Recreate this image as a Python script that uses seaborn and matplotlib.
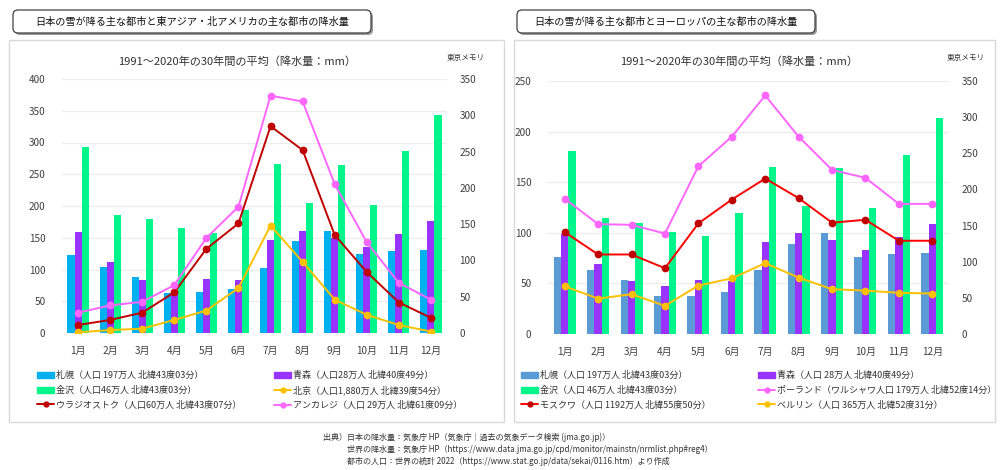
import numpy as np
import pandas as pd
import matplotlib
matplotlib.use('Agg')
import matplotlib.pyplot as plt
from matplotlib.patches import Patch, Rectangle, FancyBboxPatch
from matplotlib.lines import Line2D
from matplotlib.transforms import Affine2D
import seaborn as sns

sns.set_style('white')
plt.rcParams['font.family'] = ['Noto Sans CJK JP', 'DejaVu Sans']

months = [f'{m}月' for m in range(1, 13)]

# 左: 日本 + 東アジア・北アメリカ（札幌・金沢・各線は右軸、青森は左軸）
sapporo_l = [108, 91, 77, 55, 56, 60, 90, 127, 141, 109, 113, 114]
aomori_l = [159, 112, 84, 64, 85, 84, 147, 161, 150, 135, 156, 177]
kanazawa_l = [256, 163, 157, 144, 138, 170, 233, 179, 232, 177, 251, 301]
vladivostok = [11, 18, 28, 56, 116, 151, 285, 252, 135, 84, 42, 21]
beijing = [1, 4, 6, 18, 31, 62, 148, 98, 46, 25, 11, 2]
anchorage = [28, 38, 43, 66, 131, 174, 327, 319, 205, 125, 69, 46]

# 右: 日本 + ヨーロッパ
sapporo_r = [106, 89, 75, 52, 53, 58, 88, 124, 140, 107, 111, 112]
aomori_r = [99, 69, 52, 47, 53, 52, 91, 100, 93, 83, 96, 109]
kanazawa_r = [253, 160, 154, 141, 135, 168, 231, 177, 229, 175, 248, 299]
poland = [187, 152, 151, 139, 232, 273, 330, 273, 227, 216, 180, 180]
moscow = [141, 110, 110, 91, 153, 186, 215, 188, 154, 158, 129, 129]
berlin = [66, 49, 55, 39, 67, 77, 98, 78, 62, 60, 57, 56]

lab_sap = '札幌（人口 197万人 北緯43度03分）'
lab_aom_l = '青森（人口28万人 北緯40度49分）'
lab_aom_r = '青森（人口 28万人 北緯40度49分）'
lab_kan_l = '金沢（人口46万人 北緯43度03分）'
lab_kan_r = '金沢（人口 46万人 北緯43度03分）'

W, H = 1000, 470
fig = plt.figure(figsize=(10, 4.7), dpi=100)
pxt = Affine2D().scale(0.01) + fig.dpi_scale_trans


def frame(x0, y0, x1, y1):
    fig.patches.append(Rectangle((x0, H - y1), x1 - x0, y1 - y0, transform=pxt,
                                 fc='none', ec='#d9d9d9', lw=1))


def title_box(x0, x1, text):
    y0, y1 = 10, 33
    fig.patches.append(FancyBboxPatch((x0 + 2, H - y1 - 2), x1 - x0, y1 - y0, transform=pxt,
                                      boxstyle='round,pad=0,rounding_size=5',
                                      fc='#9a9a9a', ec='none'))
    fig.patches.append(FancyBboxPatch((x0, H - y1), x1 - x0, y1 - y0, transform=pxt,
                                      boxstyle='round,pad=0,rounding_size=5',
                                      fc='white', ec='#404040', lw=0.9))
    fig.text((x0 + x1) / 2 / W, 1 - (y0 + y1) / 2 / H, text, ha='center', va='center',
             fontsize=7.3, color='#111111')


def panel(ax_px, bars, bar_labels, on_left, bar_colors, lines, left_max,
          sub_x, memo_x, leg_x):
    x0, y0, x1, y1 = ax_px
    ax = fig.add_axes([x0 / W, 1 - y1 / H, (x1 - x0) / W, (y1 - y0) / H])
    ax2 = ax.twinx()

    # 棒：札幌・青森・金沢を 1 か月ごとに並べる
    xs = np.arange(len(months))
    bw = 0.22
    for i, (vals, col) in enumerate(zip(bars, bar_colors)):
        a = ax if i == on_left else ax2
        a.bar(xs + (i - 1) * bw, vals, width=bw, color=col, lw=0)

    for vals, lc, mc, _ in lines:
        sns.pointplot(x=months, y=vals, color=lc, markers='o', markersize=4.5,
                      linewidth=1.4, errorbar=None, ax=ax2)
        ln = ax2.lines[-1]
        ln.set_markerfacecolor(mc)
        ln.set_markeredgecolor(mc)

    ax.set_ylim(0, left_max)
    ax.set_yticks(range(0, left_max + 1, 50))
    ax2.set_ylim(0, 350)
    ax2.set_yticks(range(0, 351, 50))
    ax.set_xlim(-0.5, 11.5)
    ax.set_xticks(xs)
    ax.set_xticklabels(months)
    for a in (ax, ax2):
        a.set_xlabel('')
        a.set_ylabel('')
        for s in a.spines.values():
            s.set_visible(False)
    ax.yaxis.grid(True, color='#ececec', lw=0.9)
    ax.set_axisbelow(True)
    ax.tick_params(axis='y', length=0, pad=12, labelsize=7.2, labelcolor='#404040')
    ax2.tick_params(axis='y', length=0, pad=9, labelsize=7.2, labelcolor='#404040')
    ax.tick_params(axis='x', length=0, pad=9, labelsize=7.2, labelcolor='#404040')
    ax2.tick_params(axis='x', length=0)

    fig.text(sub_x / W, 1 - 62 / H, '1991～2020年の30年間の平均（降水量：mm）',
             ha='center', va='center', fontsize=8, color='#333333')
    fig.text(memo_x / W, 1 - 58 / H, '東京メモリ', ha='center', va='center',
             fontsize=5.5, color='#333333')

    bar_h = [Patch(color=c) for c in bar_colors]
    line_h = [Line2D([], [], color=lc, marker='o', markersize=3.5, lw=1.4,
                     mfc=mc, mec=mc) for _, lc, mc, _ in lines]
    col1 = ([bar_h[0], bar_h[2], line_h[0]], [bar_labels[0], bar_labels[2], lines[0][3]])
    col2 = ([bar_h[1], line_h[1], line_h[2]], [bar_labels[1], lines[1][3], lines[2][3]])
    for (hs, ls), lx in zip([col1, col2], leg_x):
        fig.legend(hs, ls, loc='upper left', bbox_to_anchor=(lx / W, 1 - 371 / H),
                   frameon=False, fontsize=6.5, handlelength=1.9, handleheight=0.7,
                   handletextpad=0.2, labelspacing=0.62, borderpad=0, borderaxespad=0,
                   labelcolor='#333333')


frame(9, 40, 504, 422)
frame(514, 40, 995, 422)
title_box(13, 371, '日本の雪が降る主な都市と東アジア・北アメリカの主な都市の降水量')
title_box(517, 815, '日本の雪が降る主な都市とヨーロッパの主な都市の降水量')

panel((62, 79, 447, 333),
      [sapporo_l, aomori_l, kanazawa_l], [lab_sap, lab_aom_l, lab_kan_l], 1,
      ['#00b0f0', '#9933ff', '#00f58a'],
      [(vladivostok, '#c00000', '#c00000', 'ウラジオストク（人口60万人 北緯43度07分）'),
       (beijing, '#ffc000', '#ffc000', '北京（人口1,880万人 北緯39度54分）'),
       (anchorage, '#ff66ff', '#ff66ff', 'アンカレジ（人口 29万人 北緯61度09分）')],
      400, 237, 466, (37, 274))

panel((548, 81, 949, 334),
      [sapporo_r, aomori_r, kanazawa_r], [lab_sap, lab_aom_r, lab_kan_r], 1,
      ['#5b9bd5', '#9933ff', '#00f58a'],
      [(moscow, '#ff0000', '#c00000', 'モスクワ（人口 1192万人 北緯55度50分）'),
       (poland, '#ff66ff', '#ff66ff', 'ポーランド（ワルシャワ人口 179万人 北緯52度14分）'),
       (berlin, '#ffc000', '#ffc000', 'ベルリン（人口 365万人 北緯52度31分）')],
      250, 739, 966, (521, 758))

src = ['出典）日本の降水量：気象庁 HP（気象庁｜過去の気象データ検索 (jma.go.jp)）',
       '世界の降水量：気象庁 HP（https://www.data.jma.go.jp/cpd/monitor/mainstn/nrmlist.php#reg4）',
       '都市の人口：世界の統計 2022（https://www.stat.go.jp/data/sekai/0116.htm）より作成']
for i, (s, sx) in enumerate(zip(src, [323, 347, 347])):
    fig.text(sx / W, 1 - (437 + 12 * i) / H, s, ha='left', va='center',
             fontsize=5.8, color='#333333')

fig.savefig('out.png', dpi=100)
